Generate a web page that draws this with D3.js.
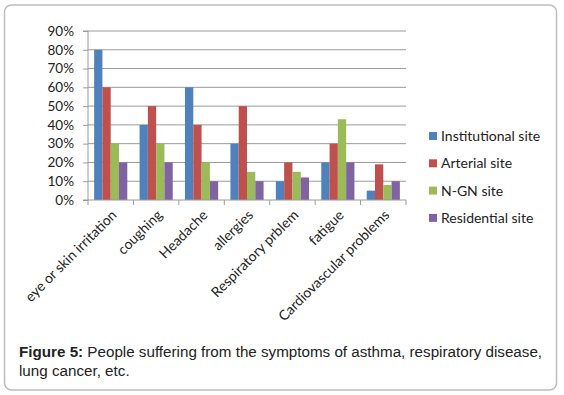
<!DOCTYPE html>
<html>
<head>
<meta charset="utf-8">
<script src="https://cdn.jsdelivr.net/npm/d3@7"></script>
<style>
  body { margin: 0; background: #fff; }
  svg text { font-family: Lato, "Liberation Sans", sans-serif; }
</style>
</head>
<body>
<div id="chart"></div>
<script>
// data
const symptoms = ["eye or skin irritation", "coughing", "Headache", "allergies",
  "Respiratory prblem", "fatigue", "Cardiovascular problems"]
const sites = ["Institutional site", "Arterial site", "N-GN site", "Residential site"]
const institutional = [80, 40, 60, 30, 10, 20, 5]
const arterial = [60, 50, 40, 50, 20, 30, 19]
const ngn = [30, 30, 20, 15, 15, 43, 8]
const residential = [20, 20, 10, 10, 12, 20, 10]
const yTicks = [0, 10, 20, 30, 40, 50, 60, 70, 80, 90]

const colors = ["#4F81BD", "#C0504D", "#9BBB59", "#8064A2"]
const series = [institutional, arterial, ngn, residential]

const W = 564, H = 395
const margin = { top: 31, left: 88, right: 158, bottom: 195 }
const width = W - margin.left - margin.right
const height = H - margin.top - margin.bottom

const svg = d3.select("#chart").append("svg")
    .attr("width", W)
    .attr("height", H)

// outer frame
svg.append("rect")
    .attr("x", 4.5).attr("y", 5)
    .attr("width", 552).attr("height", 385)
    .attr("rx", 7)
    .attr("fill", "none")
    .attr("stroke", "#bdbdbd")
    .attr("stroke-width", 1.5)

const g = svg.append("g")
    .attr("transform", "translate(" + margin.left + "," + margin.top + ")")

const x = d3.scaleBand().domain(symptoms).range([0, width]).paddingInner(0.27).paddingOuter(0.135)
const x1 = d3.scaleBand().domain(d3.range(sites.length)).range([0, x.bandwidth()])
const y = d3.scaleLinear().domain([0, 90]).range([height, 0])

// gridlines
g.append("g")
  .selectAll("line")
  .data(yTicks.slice(1))
  .join("line")
    .attr("x1", 0).attr("x2", width)
    .attr("y1", d => y(d)).attr("y2", d => y(d))
    .attr("stroke", "#9a9a9a")
    .attr("stroke-width", 1)

// bars
const groups = g.append("g")
  .selectAll("g")
  .data(symptoms)
  .join("g")
    .attr("transform", d => "translate(" + x(d) + ",0)")

groups.selectAll("rect")
  .data((d, i) => series.map((s, k) => ({ k: k, v: s[i] })))
  .join("rect")
    .attr("x", d => x1(d.k))
    .attr("width", x1.bandwidth())
    .attr("y", d => y(d.v))
    .attr("height", d => height - y(d.v))
    .attr("fill", d => colors[d.k])

// y axis
const yAxis = g.append("g")
    .call(d3.axisLeft(y).tickValues(yTicks).tickFormat(d => d + "%").tickSize(5).tickPadding(9))
yAxis.select(".domain").attr("stroke", "#9a9a9a").attr("d", "M-5,0H0V" + height + "H-5")
yAxis.selectAll(".tick line").attr("stroke", "#9a9a9a")
yAxis.selectAll("text").attr("font-size", "13.5px").attr("fill", "#222")

// x axis with ticks at category boundaries
const step = width / symptoms.length
g.append("line")
    .attr("x1", 0).attr("x2", width)
    .attr("y1", height).attr("y2", height)
    .attr("stroke", "#9a9a9a")
g.append("g")
  .selectAll("line")
  .data(d3.range(symptoms.length + 1))
  .join("line")
    .attr("x1", d => d * step).attr("x2", d => d * step)
    .attr("y1", height).attr("y2", height + 5)
    .attr("stroke", "#9a9a9a")

g.append("g")
  .selectAll("text")
  .data(symptoms)
  .join("text")
    .attr("transform", d => "translate(" + (x(d) + x.bandwidth() / 2) + "," + (height + 9) + ") rotate(-45)")
    .attr("text-anchor", "end")
    .attr("dy", "0.7em")
    .attr("font-size", "14px")
    .attr("fill", "#222")
    .text(d => d)

// legend
const legend = svg.append("g")
  .selectAll("g")
  .data(sites)
  .join("g")
    .attr("transform", (d, i) => "translate(429," + (136 + i * 27.3) + ")")
legend.append("rect")
    .attr("x", 0).attr("y", -4)
    .attr("width", 8).attr("height", 8)
    .attr("fill", (d, i) => colors[i])
legend.append("text")
    .attr("x", 12)
    .attr("dy", "0.35em")
    .attr("font-size", "14px")
    .attr("fill", "#222")
    .text(d => d)

// caption
const capFont = "'Liberation Sans', Arial, sans-serif"
const cap = svg.append("text")
    .attr("x", 19).attr("y", 357)
    .style("font-family", capFont)
    .attr("font-size", "15.2px")
    .attr("fill", "#222")
cap.append("tspan").attr("font-weight", "bold").style("font-family", capFont).text("Figure 5:")
cap.append("tspan").style("font-family", capFont).text(" People suffering from the symptoms of asthma, respiratory disease,")
svg.append("text")
    .attr("x", 19).attr("y", 376)
    .style("font-family", capFont)
    .attr("font-size", "15.2px")
    .attr("fill", "#222")
    .text("lung cancer, etc.")
</script>
</body>
</html>
